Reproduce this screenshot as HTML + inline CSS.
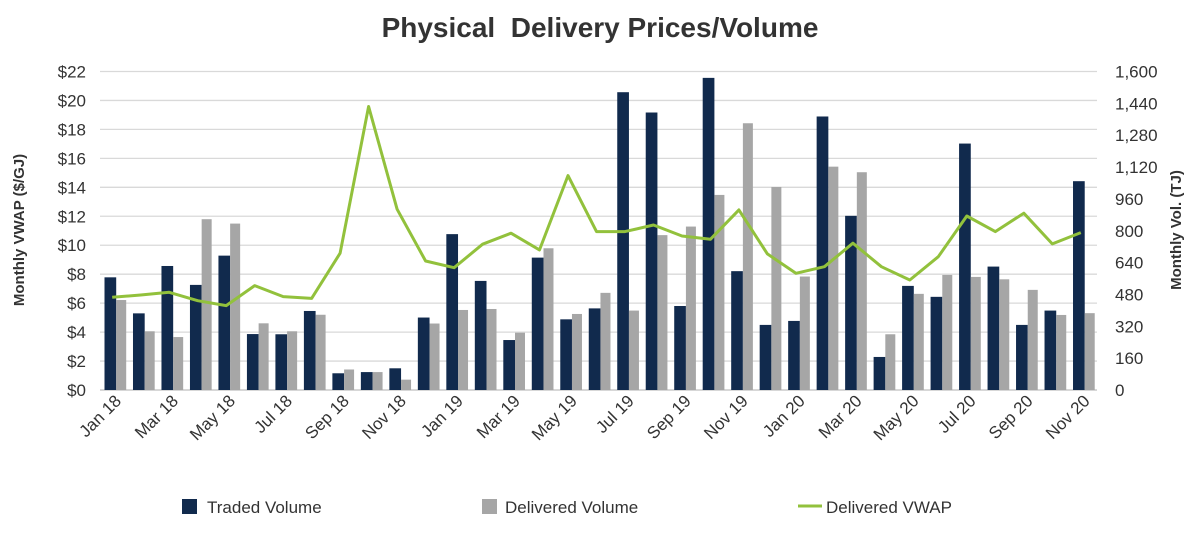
<!DOCTYPE html>
<html><head><meta charset="utf-8"><style>
body{margin:0;background:#fff;width:1200px;height:546px;overflow:hidden;font-family:"Liberation Sans",sans-serif}
svg text{font-family:"Liberation Sans",sans-serif}
</style></head><body>
<svg id="c" width="1200" height="546">
<text x="600" y="37" text-anchor="middle" font-size="28" font-weight="bold" fill="#333" xml:space="preserve" style="white-space:pre">Physical  Delivery Prices/Volume</text>
<text transform="translate(24,230) rotate(-90)" text-anchor="middle" font-size="15" font-weight="bold" fill="#333">Monthly VWAP ($/GJ)</text>
<text transform="translate(1181,230) rotate(-90)" text-anchor="middle" font-size="15" font-weight="bold" fill="#333">Monthly Vol. (TJ)</text>
<g id="grid"></g><g id="bars"></g><g id="line"></g><g id="axes"></g>
<g>
<rect x="182" y="499" width="15" height="15" fill="#112a4d"/>
<text x="207" y="513" font-size="17" fill="#333">Traded Volume</text>
<rect x="482" y="499" width="15" height="15" fill="#a6a6a6"/>
<text x="505" y="513" font-size="17" fill="#333">Delivered Volume</text>
<line x1="798" y1="506" x2="822" y2="506" stroke="#92c13c" stroke-width="3"/>
<text x="826" y="513" font-size="17" fill="#333">Delivered VWAP</text>
</g>
</svg>
<script>
const months=["Jan 18","Feb 18","Mar 18","Apr 18","May 18","Jun 18","Jul 18","Aug 18","Sep 18","Oct 18","Nov 18","Dec 18","Jan 19","Feb 19","Mar 19","Apr 19","May 19","Jun 19","Jul 19","Aug 19","Sep 19","Oct 19","Nov 19","Dec 19","Jan 20","Feb 20","Mar 20","Apr 20","May 20","Jun 20","Jul 20","Aug 20","Sep 20","Oct 20","Nov 20"];
const traded=[566,385,623,528,675,281,280,397,84,90,109,364,783,548,251,665,355,410,1496,1394,422,1568,597,327,347,1374,875,166,523,468,1238,620,327,399,1049];
const delivered=[452,295,266,858,836,335,295,378,103,90,52,334,402,407,288,712,382,488,399,778,821,980,1340,1020,570,1122,1094,280,483,578,568,556,503,377,386];
const vwap=[6.4,6.56,6.75,6.17,5.83,7.21,6.45,6.33,9.45,19.58,12.49,8.91,8.45,10.07,10.83,9.68,14.81,10.94,10.94,11.4,10.64,10.41,12.44,9.4,8.06,8.52,10.14,8.52,7.6,9.21,12.02,10.94,12.21,10.09,10.87];
const leftTicks=[0,2,4,6,8,10,12,14,16,18,20,22];
const rightTicks=[0,160,320,480,640,800,960,1120,1280,1440,1600];
const NS="http://www.w3.org/2000/svg";
const X0=100,X1=1097,Y0=390,Y1=71.5;
const step=(X1-X0)/months.length;
const yL=v=>Y0-(v/22)*(Y0-Y1);
const yR=v=>Y0-(v/1600)*(Y0-Y1);
const xG=i=>X0+i*step;
function mk(tag,attrs,parent,txt){const e=document.createElementNS(NS,tag);for(const k in attrs)e.setAttribute(k,attrs[k]);if(txt!==undefined)e.textContent=txt;document.getElementById(parent).appendChild(e);return e;}
leftTicks.forEach(t=>{
  const l=mk('line',{x1:X0,x2:X1,y1:yL(t),y2:yL(t),stroke:t===0?'#bfbfbf':'#d9d9d9','stroke-width':1.3},'grid');
  
  
  const tx=mk('text',{x:86,y:yL(t)+6,'text-anchor':'end','font-size':17,fill:'#333'},'axes','$'+t);
  
  
});
rightTicks.forEach(t=>{
  const tx=mk('text',{x:1115,y:yR(t)+6,'font-size':17,fill:'#333'},'axes',t.toLocaleString('en-US'));
  
  
});
months.forEach((m,i)=>{
  const g=xG(i)+4.5;
  const a=mk('rect',{x:g,y:yR(traded[i]),width:11.7,height:Y0-yR(traded[i]),fill:'#112a4d'},'bars');
  
  
  const b=mk('rect',{x:g+11.7,y:yR(delivered[i]),width:10,height:Y0-yR(delivered[i]),fill:'#a6a6a6'},'bars');
  
  
  if(i%2===0){
    const cx=xG(i)+step/2+8, cy=402;
    const tx=mk('text',{transform:`translate(${cx},${cy}) rotate(-45)`,'text-anchor':'end','font-size':17,fill:'#333'},'axes',m);
    
    
  }
});
const pts=vwap.map((v,i)=>(xG(i)+step/2-2).toFixed(1)+','+yL(v).toFixed(1)).join(' ');
const pl=mk('polyline',{points:pts,fill:'none',stroke:'#92c13c','stroke-width':3,'stroke-linejoin':'round'},'line');


</script>
</body></html>
